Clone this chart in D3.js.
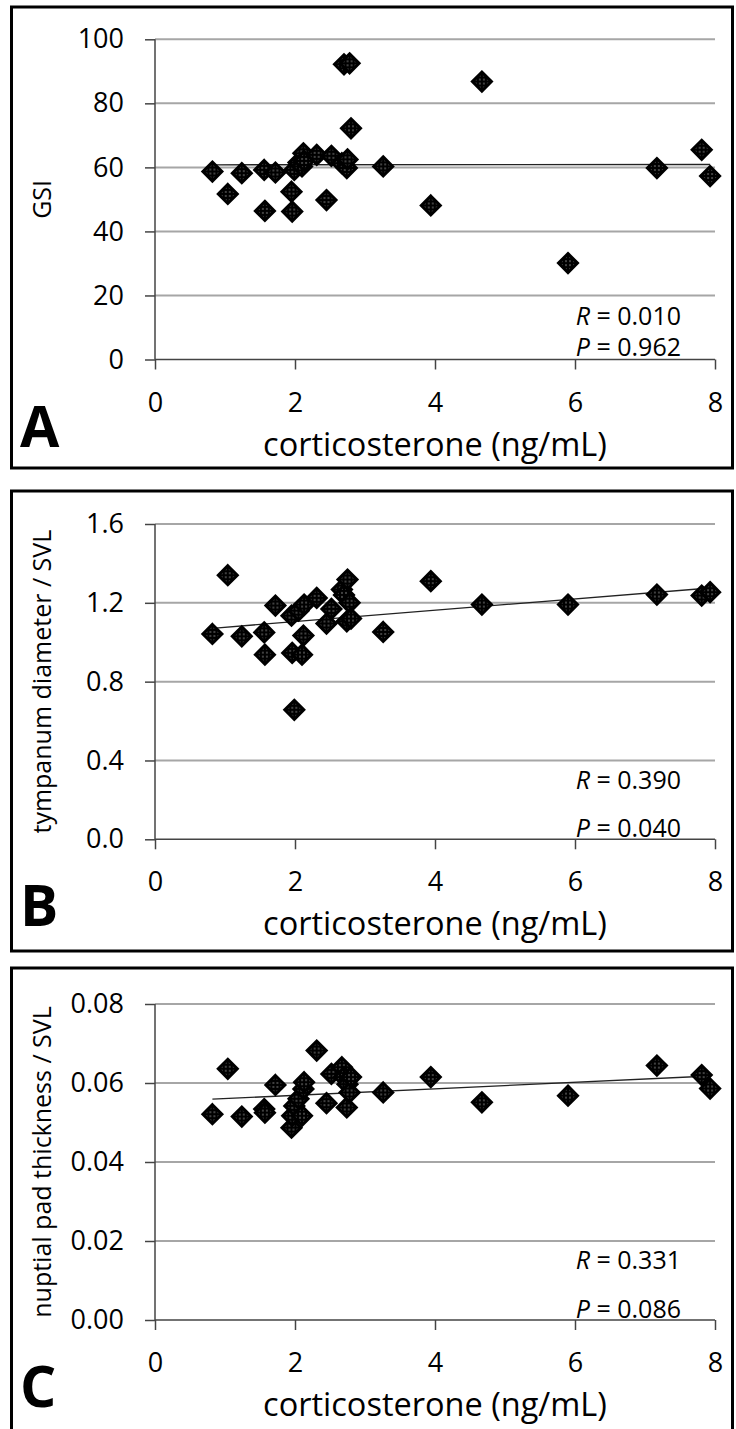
<!DOCTYPE html>
<html><head><meta charset="utf-8">
<script src="https://cdn.jsdelivr.net/npm/d3@7"></script>
<style>
body{margin:0;background:#fff;}
svg{display:block;}
text{font-family:'Open Sans',sans-serif;fill:#000;}
</style>
</head><body><div id="chart"></div>
<script>
// ---- data ----
const corticosterone = [0.82,1.04,1.24,1.56,1.57,1.72,1.95,1.96,1.99,2.05,2.10,2.12,2.13,2.31,2.45,2.52,2.67,2.70,2.74,2.75,2.78,2.80,3.26,3.94,4.67,5.90,7.17,7.81,7.93];
const gsi          = [58.7,51.7,58.2,59.2,46.4,58.4,52.4,46.2,59.2,61.5,60.3,64.4,62.0,63.9,49.8,63.6,61.3,92.2,59.8,62.5,92.5,72.2,60.3,48.1,86.8,30.1,59.8,65.5,57.3];
const tympanumSVL  = [1.042,1.340,1.030,1.050,0.937,1.186,1.135,0.946,0.657,1.160,0.937,1.034,1.191,1.225,1.095,1.169,1.267,1.240,1.106,1.318,1.200,1.120,1.052,1.310,1.191,1.191,1.242,1.237,1.254];
const nuptialSVL   = [0.0521,0.0636,0.0515,0.0534,0.0525,0.0595,0.0487,0.0517,0.0542,0.0560,0.0517,0.0585,0.0602,0.0682,0.0549,0.0623,0.0640,0.0615,0.0538,0.0597,0.0576,0.0615,0.0576,0.0615,0.0551,0.0568,0.0644,0.0620,0.0586];

const xTickValues   = [0,2,4,6,8];
const gsiTicks      = [0,20,40,60,80,100];
const tympanumTicks = [0,0.4,0.8,1.2,1.6];
const nuptialTicks  = [0,0.02,0.04,0.06,0.08];

const panelLetters = ["A","B","C"];
const yTitles = ["GSI","tympanum diameter / SVL","nuptial pad thickness / SVL"];
const xTitle = "corticosterone (ng/mL)";
const rValues = ["0.010","0.390","0.331"];
const pValues = ["0.962","0.040","0.086"];

// ---- layout ----
const W = 736, H = 1429;
const panels = [
  {ys: gsi, ticks: gsiTicks, fmt: d3.format("d"), frameTop: 7, frameBottom: 468, plotTop: 39.3, plotBottom: 359.5, rY: 325, pY: 356},
  {ys: tympanumSVL, ticks: tympanumTicks, fmt: d3.format(".1f"), frameTop: 491, frameBottom: 951, plotTop: 524, plotBottom: 839.3, rY: 789, pY: 837},
  {ys: nuptialSVL, ticks: nuptialTicks, fmt: d3.format(".2f"), frameTop: 968, frameBottom: 1445, plotTop: 1004, plotBottom: 1320, rY: 1269, pY: 1318}
];

const svg = d3.select("#chart").append("svg").attr("width", W).attr("height", H);
const pat = svg.append("defs").append("pattern")
  .attr("id","dots").attr("width",4).attr("height",4).attr("patternUnits","userSpaceOnUse");
pat.append("rect").attr("width",4).attr("height",4).attr("fill","#000");
pat.append("rect").attr("x",1.5).attr("y",1.5).attr("width",1).attr("height",1).attr("fill","#fff");

const x = d3.scaleLinear().domain([0,8]).range([155,715]);
const diamond = r => `M0,${-r}L${r},0L0,${r}L${-r},0Z`;

panels.forEach((p, i) => {
  const g = svg.append("g");
  const y = d3.scaleLinear().domain([p.ticks[0], p.ticks[p.ticks.length-1]]).range([p.plotBottom, p.plotTop]);

  // frame
  g.append("rect").attr("x",11.5).attr("y",p.frameTop).attr("width",721).attr("height",p.frameBottom-p.frameTop)
    .attr("fill","none").attr("stroke","#000").attr("stroke-width",3);

  // gridlines
  g.selectAll(".grid").data(p.ticks.slice(1)).join("line")
    .attr("x1",x(0)).attr("x2",x(8)).attr("y1",d=>y(d)).attr("y2",d=>y(d))
    .attr("stroke","#a6a6a6").attr("stroke-width",2);

  // y axis
  const ya = g.append("g").attr("transform",`translate(${x(0)},0)`)
    .call(d3.axisLeft(y).tickValues(p.ticks).tickFormat(p.fmt).tickSize(10).tickPadding(21));
  ya.select(".domain").remove();
  ya.selectAll(".tick line").attr("stroke","#444").attr("stroke-width",1.5);
  ya.selectAll(".tick text").attr("font-size",27).attr("font-family","'Open Sans',sans-serif").attr("fill","#000");
  g.append("line").attr("x1",x(0)).attr("x2",x(0)).attr("y1",p.plotTop).attr("y2",p.plotBottom)
    .attr("stroke","#444").attr("stroke-width",1.5);

  // x axis
  const xa = g.append("g").attr("transform",`translate(0,${p.plotBottom})`)
    .call(d3.axisBottom(x).tickValues(xTickValues).tickSize(10));
  xa.select(".domain").remove();
  xa.selectAll(".tick line").attr("stroke","#444").attr("stroke-width",1.5);
  xa.selectAll(".tick text").attr("font-size",27).attr("font-family","'Open Sans',sans-serif").attr("fill","#000")
    .attr("y",52).attr("dy",null);
  g.append("line").attr("x1",x(0)).attr("x2",x(8)).attr("y1",p.plotBottom).attr("y2",p.plotBottom)
    .attr("stroke","#444").attr("stroke-width",1.5);

  // titles
  g.append("text").attr("x",435).attr("y",p.plotBottom+96).attr("text-anchor","middle")
    .attr("font-size",32.5).text(xTitle);
  g.append("text").attr("transform",`translate(42,${(p.plotTop+p.plotBottom)/2}) rotate(-90)`)
    .attr("text-anchor","middle").attr("dy","0.35em").attr("font-size",25).text(yTitles[i]);
  g.append("text").attr("x",20).attr("y",p.plotBottom+87).attr("font-size",57).attr("font-weight","bold")
    .attr("font-family","'Liberation Sans',Arial,sans-serif").text(panelLetters[i]);

  // stats
  const rt = g.append("text").attr("x",681).attr("y",p.rY).attr("text-anchor","end").attr("font-size",25);
  rt.append("tspan").attr("font-style","italic").text("R");
  rt.append("tspan").text(" = " + rValues[i]);
  const pt = g.append("text").attr("x",681).attr("y",p.pY).attr("text-anchor","end").attr("font-size",25);
  pt.append("tspan").attr("font-style","italic").text("P");
  pt.append("tspan").text(" = " + pValues[i]);

  // points
  const pts = corticosterone.map((cx, k) => ({x: cx, y: p.ys[k]}));

  // trend line (least squares)
  const mx = d3.mean(pts, d=>d.x), my = d3.mean(pts, d=>d.y);
  const b = d3.sum(pts, d=>(d.x-mx)*(d.y-my)) / d3.sum(pts, d=>(d.x-mx)*(d.x-mx));
  const a = my - b*mx;
  const [x0, x1] = d3.extent(pts, d=>d.x);
  g.append("line").attr("x1",x(x0)).attr("x2",x(x1)).attr("y1",y(a+b*x0)).attr("y2",y(a+b*x1))
    .attr("stroke","#222").attr("stroke-width",1.3);

  g.selectAll(".pt").data(pts).join("path")
    .attr("d", diamond(9.5))
    .attr("transform", d=>`translate(${x(d.x)},${y(d.y)})`)
    .attr("fill","url(#dots)").attr("stroke","#000").attr("stroke-width",3).attr("stroke-linejoin","miter");
});
</script>
</body></html>
